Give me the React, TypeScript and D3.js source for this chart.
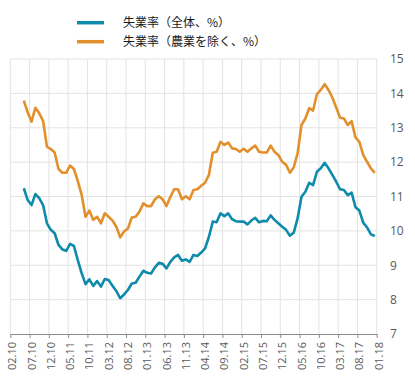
import React, { useEffect, useRef } from 'react';
import * as d3 from 'd3';

// x-axis tick labels (every 5 months, 02.10 .. 01.18)
const tickLabels = [
  '02.10', '07.10', '12.10', '05.11', '10.11', '03.12', '08.12', '01.13', '06.13', '11.13',
  '04.14', '09.14', '02.15', '07.15', '12.15', '05.16', '10.16', '03.17', '08.17', '01.18',
];

// first data month is 3 months after 02.10 (05.10), monthly to 12.17
const firstMonth = 3;

// 失業率（全体、%）
const totalRate = [
  11.24, 10.9, 10.75, 11.07, 10.95, 10.75, 10.22, 10.03, 9.93, 9.59,
  9.46, 9.42, 9.62, 9.56, 9.15, 8.77, 8.45, 8.59, 8.4, 8.54,
  8.38, 8.6, 8.57, 8.4, 8.25, 8.04, 8.15, 8.28, 8.47, 8.49,
  8.67, 8.84, 8.78, 8.76, 8.94, 9.07, 9.04, 8.91, 9.1, 9.23,
  9.3, 9.13, 9.17, 9.1, 9.3, 9.27, 9.37, 9.49, 9.83, 10.27,
  10.25, 10.51, 10.43, 10.51, 10.34, 10.28, 10.27, 10.27, 10.19, 10.3,
  10.38, 10.25, 10.29, 10.28, 10.45, 10.32, 10.22, 10.12, 10.03, 9.86,
  9.95, 10.37, 10.99, 11.14, 11.4, 11.33, 11.72, 11.82, 11.98, 11.82,
  11.63, 11.43, 11.21, 11.19, 11.04, 11.11, 10.69, 10.59, 10.24, 10.1,
  9.9, 9.85,
];

// 失業率（農業を除く、%）
const exAgriRate = [
  13.79, 13.45, 13.18, 13.58, 13.42, 13.2, 12.45, 12.38, 12.28, 11.8,
  11.69, 11.69, 11.9, 11.8, 11.45, 11.05, 10.41, 10.59, 10.32, 10.41,
  10.22, 10.51, 10.41, 10.3, 10.12, 9.81, 9.98, 10.07, 10.39, 10.41,
  10.56, 10.8, 10.72, 10.72, 10.92, 11.01, 10.92, 10.72, 10.99, 11.21,
  11.21, 10.92, 11.01, 10.92, 11.19, 11.21, 11.31, 11.4, 11.63, 12.27,
  12.3, 12.59, 12.5, 12.57, 12.4, 12.38, 12.3, 12.39, 12.3, 12.4,
  12.48, 12.3, 12.28, 12.28, 12.48, 12.3, 12.21, 12.01, 11.92, 11.69,
  11.85, 12.26, 13.08, 13.27, 13.57, 13.5, 13.98, 14.1, 14.27, 14.1,
  13.88, 13.59, 13.29, 13.27, 13.08, 13.19, 12.72, 12.59, 12.21, 12.01,
  11.82, 11.69,
];

const yTicks = [7, 8, 9, 10, 11, 12, 13, 14, 15];

const seriesNames = ['失業率（全体、%）', '失業率（農業を除く、%）'];
const seriesColors = ['#0e8aab', '#e28f2c'];

export default function App() {
  const svgRef = useRef<SVGSVGElement>(null);
  const width = 415;
  const height = 390;

  useEffect(() => {
    const svg = d3.select(svgRef.current);
    svg.selectAll('*').remove();

    const left = 10.3;
    const right = 376.7;
    const top = 59;
    const bottom = 334;

    const x = d3.scaleLinear().domain([0, (tickLabels.length - 1) * 5]).range([left, right]);
    const y = d3.scaleLinear().domain([7, 15]).range([bottom, top]);

    const grid = svg.append('g');
    // horizontal gridlines
    grid.selectAll('.hgrid')
      .data(yTicks.slice(1))
      .enter()
      .append('line')
      .attr('x1', left)
      .attr('x2', right)
      .attr('y1', d => y(d))
      .attr('y2', d => y(d))
      .attr('stroke', '#e3e3e3')
      .attr('stroke-width', 1);
    // vertical gridlines
    grid.selectAll('.vgrid')
      .data(tickLabels)
      .enter()
      .append('line')
      .attr('x1', (_, i) => x(i * 5))
      .attr('x2', (_, i) => x(i * 5))
      .attr('y1', top)
      .attr('y2', bottom)
      .attr('stroke', '#e3e3e3')
      .attr('stroke-width', 1);

    // bottom axis
    const xAxis = d3.axisBottom(x)
      .tickValues(tickLabels.map((_, i) => i * 5))
      .tickFormat((_, i) => tickLabels[i])
      .tickSize(4)
      .tickSizeOuter(0);
    const gx = svg.append('g')
      .attr('transform', `translate(0,${bottom})`)
      .call(xAxis);
    gx.select('.domain').attr('stroke', '#8c8c8c');
    gx.selectAll('.tick line').attr('stroke', '#8c8c8c');
    gx.selectAll('.tick text')
      .attr('transform', 'rotate(-90)')
      .attr('text-anchor', 'end')
      .attr('x', -8)
      .attr('y', 0)
      .attr('dy', '0.5em')
      .attr('fill', '#595959')
      .style('font-family', '"Open Sans", sans-serif')
      .style('font-size', '11px');

    // right axis labels
    svg.append('g')
      .selectAll('text')
      .data(yTicks)
      .enter()
      .append('text')
      .attr('x', 390)
      .attr('y', d => y(d))
      .attr('dy', '0.36em')
      .attr('fill', '#595959')
      .style('font-family', '"Open Sans", sans-serif')
      .style('font-size', '12px')
      .text(d => d);

    // lines
    const line = d3.line<number>()
      .x((_, i) => x(firstMonth + i + 0.5))
      .y(d => y(d));

    [totalRate, exAgriRate].forEach((series, k) => {
      svg.append('path')
        .datum(series)
        .attr('d', line)
        .attr('fill', 'none')
        .attr('stroke', seriesColors[k])
        .attr('stroke-width', 2.6)
        .attr('stroke-linejoin', 'round');
    });

    // legend
    const legend = svg.append('g');
    seriesNames.forEach((name, k) => {
      const ly = 22.7 + k * 19;
      legend.append('line')
        .attr('x1', 77)
        .attr('x2', 104)
        .attr('y1', ly)
        .attr('y2', ly)
        .attr('stroke', seriesColors[k])
        .attr('stroke-width', 3.5);
      legend.append('text')
        .attr('x', 123)
        .attr('y', ly)
        .attr('dy', '0.36em')
        .attr('fill', '#1a1a1a')
        .style('font-family', '"Noto Sans CJK JP", sans-serif')
        .style('font-size', '12px')
        .text(name);
    });
  }, []);

  return (
    <svg
      ref={svgRef}
      width={width}
      height={height}
      style={{ position: 'absolute', left: 0, top: 0, background: '#fff' }}
    />
  );
}
